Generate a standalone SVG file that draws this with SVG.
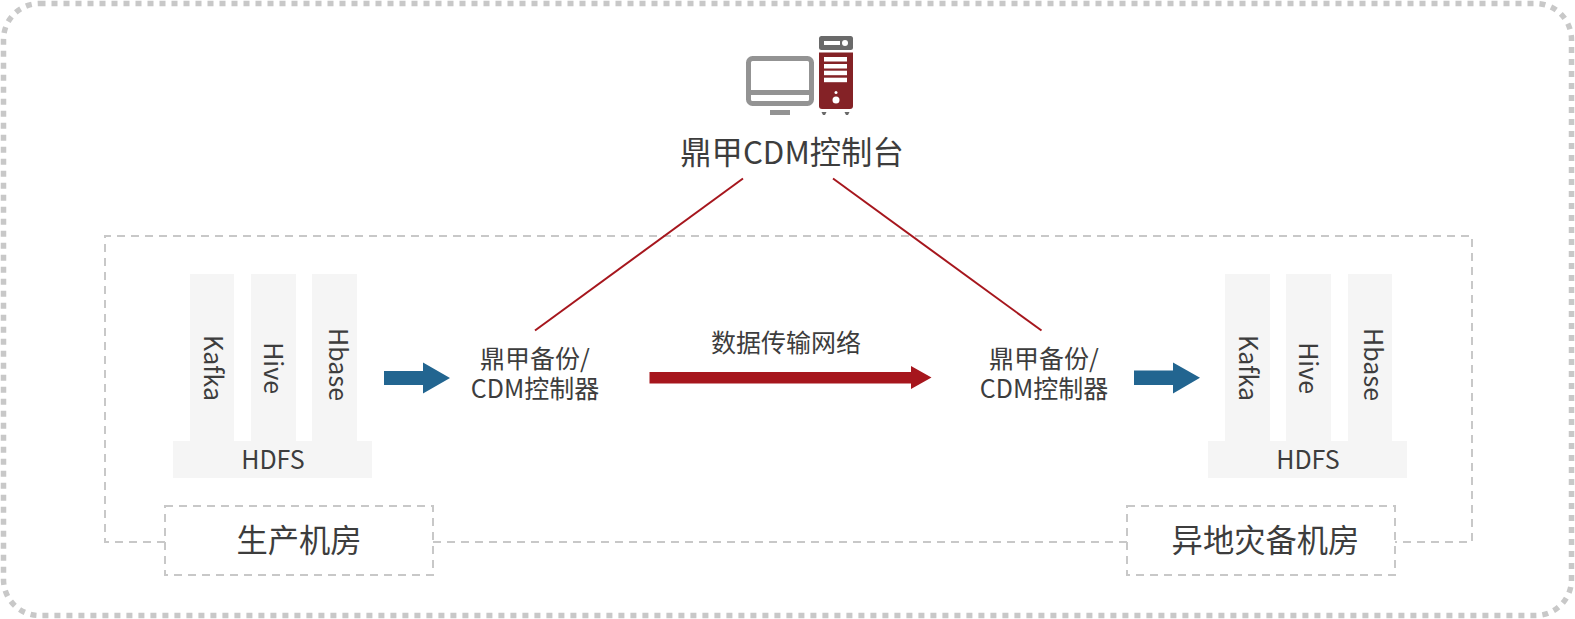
<svg xmlns="http://www.w3.org/2000/svg" width="1575" height="619" viewBox="0 0 1575 619">
<style>
text{font-family:"Noto Sans CJK SC","Noto Sans",sans-serif;fill:#3d3d3d;text-anchor:middle}
.t25{font-size:25px}.t31{font-size:31.300px}
.v{font-size:25px;text-anchor:end}
.col{fill:#f5f5f5}
.dash{fill:none;stroke:#c8c8c8;stroke-width:2;stroke-dasharray:8 6}
.link{fill:none;stroke:#a6161d;stroke-width:2}
.blue{fill:#226590}.red{fill:#a6161d}
.w{fill:#fff}
</style>
<rect width="1575" height="619" fill="#fff"/>
<rect id="outer-frame" x="3.500" y="3.500" width="1568" height="612" rx="36" fill="none" stroke="#c8c8c8" stroke-width="5.500" stroke-dasharray="6 6"/>
<path id="network-frame" class="dash" d="M165 542H105V236H1472V542H1395M433 542H1127"/>
<g id="connectors">
<line class="link" x1="743" y1="178.500" x2="535" y2="330.500"/>
<line class="link" x1="833" y1="178.500" x2="1041.500" y2="330.500"/>
<path class="blue" d="M384 371H423V362.500L450 378L423 393.500V385H384Z"/>
<path class="blue" d="M1134 370.500H1173V362.500L1200 377.700L1173 393.500V385H1134Z"/>
<path class="red" d="M649.500 372H911V366L931.500 377.500L911 389V383.500H649.500Z"/>
</g>
<g id="console">
<rect x="748.500" y="58.500" width="63" height="45" rx="4" fill="none" stroke="#939393" stroke-width="5"/>
<rect x="748" y="90" width="64" height="5" fill="#939393"/>
<rect x="770" y="110" width="20" height="5" fill="#939393"/>
<rect x="819" y="36" width="34" height="14" rx="2.500" fill="#6a6a6a"/>
<rect class="w" x="824" y="41" width="16" height="4"/>
<circle class="w" cx="845" cy="43" r="3"/>
<path d="M819 52.500H853V106Q853 109 850 109H822Q819 109 819 106Z" fill="#842226"/>
<rect class="w" x="824" y="57" width="23" height="4.500"/>
<rect class="w" x="824" y="64" width="23" height="4.500"/>
<rect class="w" x="824" y="70.700" width="23" height="4.500"/>
<rect class="w" x="824" y="77.700" width="23" height="4.500"/>
<circle class="w" cx="836" cy="92.500" r="1.500"/>
<circle class="w" cx="836" cy="100" r="3.500"/>
<path d="M821.500 112H826.500L825 115H823ZM844.500 112H849.500L848 115H846Z" fill="#6a6a6a"/>
<text class="t31" x="792" y="163.500">鼎甲CDM控制台</text>
</g>
<g id="prod-stack">
<rect class="col" x="190" y="274" width="44" height="168"/>
<rect class="col" x="251" y="274" width="45" height="168"/>
<rect class="col" x="312" y="274" width="45" height="168"/>
<rect class="col" x="173" y="441" width="199" height="37"/>
<text class="v" transform="translate(204 401) rotate(90)">Kafka</text>
<text class="v" transform="translate(264 394) rotate(90)">Hive</text>
<text class="v" transform="translate(329 401) rotate(90)">Hbase</text>
<text class="t25" x="273" y="469">HDFS</text>
</g>
<text id="prod-controller" class="t25" y="368"><tspan x="535">鼎甲备份/</tspan><tspan x="535" dy="30">CDM控制器</tspan></text>
<text id="network-label" class="t25" x="786" y="352">数据传输网络</text>
<text id="dr-controller" class="t25" y="368"><tspan x="1044">鼎甲备份/</tspan><tspan x="1044" dy="30">CDM控制器</tspan></text>
<g id="dr-stack">
<rect class="col" x="1225" y="274" width="45" height="168"/>
<rect class="col" x="1286" y="274" width="45" height="168"/>
<rect class="col" x="1348" y="274" width="44" height="168"/>
<rect class="col" x="1208" y="441" width="199" height="37"/>
<text class="v" transform="translate(1239 401) rotate(90)">Kafka</text>
<text class="v" transform="translate(1299 394) rotate(90)">Hive</text>
<text class="v" transform="translate(1364 401) rotate(90)">Hbase</text>
<text class="t25" x="1308" y="469">HDFS</text>
</g>
<g id="prod-room">
<rect class="dash" x="165" y="506" width="268" height="69"/>
<text class="t31" x="299" y="551.500">生产机房</text>
</g>
<g id="dr-room">
<rect class="dash" x="1127" y="506" width="268" height="69"/>
<text class="t31" x="1265.500" y="551.500">异地灾备机房</text>
</g>
</svg>
